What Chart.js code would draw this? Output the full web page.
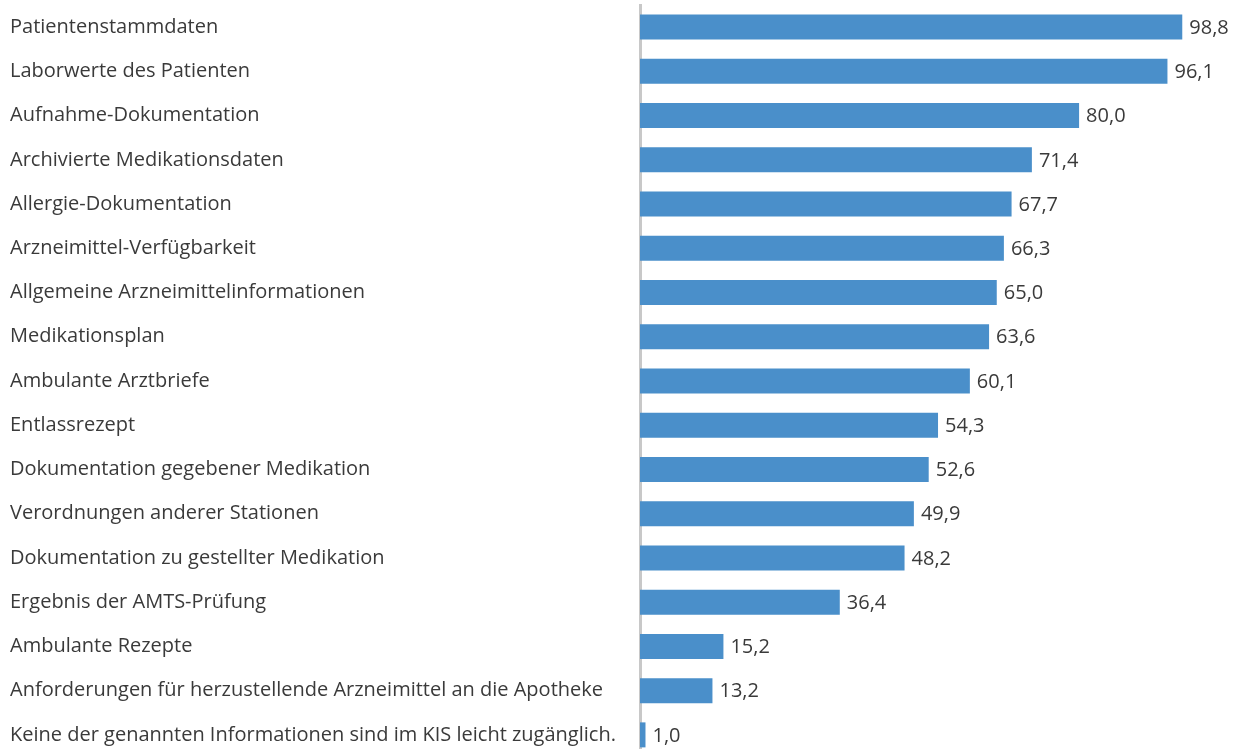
<!DOCTYPE html>
<html>
<head>
<meta charset="utf-8">
<script src="https://cdn.jsdelivr.net/npm/chart.js@4"></script>
<style>
    html, body { margin: 0; padding: 0; background: #fff; overflow: hidden; }
    #wrap { width: 1241px; height: 762px; }
</style>
</head>
<body>
<div id="wrap"><canvas id="grafico"></canvas></div>
<script>
const kategorien = [
    'Patientenstammdaten',
    'Laborwerte des Patienten',
    'Aufnahme-Dokumentation',
    'Archivierte Medikationsdaten',
    'Allergie-Dokumentation',
    'Arzneimittel-Verfügbarkeit',
    'Allgemeine Arzneimittelinformationen',
    'Medikationsplan',
    'Ambulante Arztbriefe',
    'Entlassrezept',
    'Dokumentation gegebener Medikation',
    'Verordnungen anderer Stationen',
    'Dokumentation zu gestellter Medikation',
    'Ergebnis der AMTS-Prüfung',
    'Ambulante Rezepte',
    'Anforderungen für herzustellende Arzneimittel an die Apotheke',
    'Keine der genannten Informationen sind im KIS leicht zugänglich.'
];
const prozent = [98.8, 96.1, 80.0, 71.4, 67.7, 66.3, 65.0, 63.6, 60.1, 54.3, 52.6, 49.9, 48.2, 36.4, 15.2, 13.2, 1.0];

const schrift = '"Open Sans", "Noto Sans", sans-serif';
const textFarbe = '#3a3a3a';

// Wert rechts neben jeden Balken schreiben
const wertLabels = {
    id: 'wertLabels',
    afterDatasetsDraw(chart) {
        const c = chart.ctx;
        const meta = chart.getDatasetMeta(0);
        c.save();
        c.font = '20px ' + schrift;
        c.fillStyle = textFarbe;
        c.textAlign = 'left';
        c.textBaseline = 'middle';
        meta.data.forEach((bar, i) => {
            c.fillText(prozent[i].toFixed(1).replace('.', ','), bar.x + 7, bar.y + 1);
        });
        c.restore();
    }
};

new Chart(document.getElementById('grafico'), {
    type: 'bar',
    data: {
        labels: kategorien,
        datasets: [{
            data: prozent,
            backgroundColor: '#4a8fca',
            borderWidth: 0,
            barPercentage: 0.565,
            categoryPercentage: 1
        }]
    },
    options: {
        indexAxis: 'y',
        responsive: true,
        maintainAspectRatio: false,
        animation: false,
        layout: { padding: { top: 5, left: 10, right: 0, bottom: 0 } },
        plugins: {
            legend: { display: false },
            tooltip: { enabled: false }
        },
        scales: {
            x: {
                display: false,
                min: 0,
                max: 109.5
            },
            y: {
                afterFit(scale) { scale.width = 630; },
                grid: { display: false, drawTicks: false },
                border: { display: true, color: '#c8c8c8', width: 3 },
                ticks: {
                    crossAlign: 'far',
                    padding: 0,
                    color: textFarbe,
                    // kleine lineHeight, damit die Achse kaum Randabstand reserviert
                    font: { family: schrift, size: 20, lineHeight: 0.5 }
                }
            }
        }
    },
    plugins: [wertLabels]
});
</script>
</body>
</html>
